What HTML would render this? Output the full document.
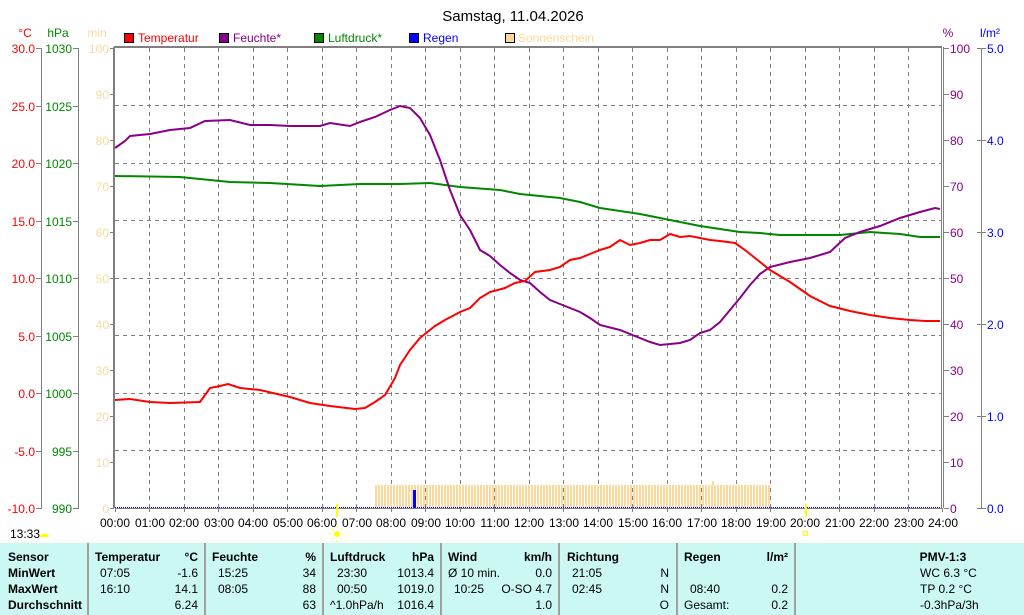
<!DOCTYPE html>
<html><head><meta charset="utf-8"><style>
html,body{margin:0;padding:0;background:#fff;}
svg{display:block;font-family:"Liberation Sans",sans-serif;font-size:12px;}
.b{font-weight:bold;}
</style></head><body>
<svg width="1024" height="615" xmlns="http://www.w3.org/2000/svg">
<rect width="1024" height="615" fill="#fff"/>
<text x="513" y="21" font-size="15" text-anchor="middle">Samstag, 11.04.2026</text>
<!-- axis units -->
<text x="25" y="37" fill="#f00" text-anchor="middle">°C</text>
<text x="58" y="37" fill="#080" text-anchor="middle">hPa</text>
<text x="97" y="37" fill="#f8dca0" text-anchor="middle">min</text>
<text x="948" y="37" fill="#808" text-anchor="middle">%</text>
<text x="990" y="37" fill="#00f" text-anchor="middle">l/m²</text>
<!-- legend -->
<g stroke="#000" stroke-width="1">
<rect x="124.5" y="33.5" width="9" height="9" fill="#f00"/>
<rect x="219.5" y="33.5" width="9" height="9" fill="#808"/>
<rect x="314.5" y="33.5" width="9" height="9" fill="#080"/>
<rect x="409.5" y="33.5" width="9" height="9" fill="#00f"/>
<rect x="505.5" y="33.5" width="9" height="9" fill="#fcd99a"/>
</g>
<text x="138" y="42" fill="#f00">Temperatur</text>
<text x="233" y="42" fill="#808">Feuchte*</text>
<text x="328" y="42" fill="#080">Luftdruck*</text>
<text x="423" y="42" fill="#00f">Regen</text>
<text x="518" y="42" fill="#fcd99a">Sonnenschein</text>
<!-- grid -->
<g stroke="#808080" stroke-dasharray="4,4" stroke-width="1">
<line x1="115" y1="105.5" x2="941" y2="105.5"/><line x1="115" y1="163.5" x2="941" y2="163.5"/>
<line x1="115" y1="220.5" x2="941" y2="220.5"/><line x1="115" y1="278.5" x2="941" y2="278.5"/>
<line x1="115" y1="335.5" x2="941" y2="335.5"/><line x1="115" y1="393.5" x2="941" y2="393.5"/>
<line x1="115" y1="450.5" x2="941" y2="450.5"/>
<line x1="149.5" y1="48" x2="149.5" y2="508"/><line x1="184.5" y1="48" x2="184.5" y2="508"/>
<line x1="218.5" y1="48" x2="218.5" y2="508"/><line x1="253.5" y1="48" x2="253.5" y2="508"/>
<line x1="287.5" y1="48" x2="287.5" y2="508"/><line x1="322.5" y1="48" x2="322.5" y2="508"/>
<line x1="356.5" y1="48" x2="356.5" y2="508"/><line x1="391.5" y1="48" x2="391.5" y2="508"/>
<line x1="425.5" y1="48" x2="425.5" y2="508"/><line x1="460.5" y1="48" x2="460.5" y2="508"/>
<line x1="494.5" y1="48" x2="494.5" y2="508"/><line x1="529.5" y1="48" x2="529.5" y2="508"/>
<line x1="563.5" y1="48" x2="563.5" y2="508"/><line x1="598.5" y1="48" x2="598.5" y2="508"/>
<line x1="632.5" y1="48" x2="632.5" y2="508"/><line x1="667.5" y1="48" x2="667.5" y2="508"/>
<line x1="701.5" y1="48" x2="701.5" y2="508"/><line x1="736.5" y1="48" x2="736.5" y2="508"/>
<line x1="770.5" y1="48" x2="770.5" y2="508"/><line x1="805.5" y1="48" x2="805.5" y2="508"/>
<line x1="839.5" y1="48" x2="839.5" y2="508"/><line x1="874.5" y1="48" x2="874.5" y2="508"/>
<line x1="908.5" y1="48" x2="908.5" y2="508"/>
</g>
<!-- sunshine -->
<defs><pattern id="sun" x="0" y="0" width="3" height="10" patternUnits="userSpaceOnUse"><rect width="2" height="10" fill="#fcd99a"/></pattern></defs>
<rect x="375" y="485" width="395" height="22" fill="url(#sun)"/>
<rect x="712" y="481" width="2" height="4" fill="#fcd99a"/>
<rect x="413" y="490" width="3" height="18" fill="#00f"/>
<line x1="115" y1="507.5" x2="941" y2="507.5" stroke="#00f" stroke-dasharray="1,1"/>
<!-- frame -->
<g stroke="#808080" fill="none">
<line x1="114" y1="47" x2="942" y2="47" stroke-width="2"/>
<line x1="114" y1="47" x2="114" y2="508" stroke-width="2"/>
<line x1="115" y1="508.5" x2="942" y2="508.5" stroke-width="1"/>
<line x1="941.5" y1="47" x2="941.5" y2="508"/><line x1="943.5" y1="47" x2="943.5" y2="508"/>
<line x1="41.5" y1="48" x2="41.5" y2="508"/><line x1="78.5" y1="48" x2="78.5" y2="508"/>
<line x1="981.5" y1="48" x2="981.5" y2="508"/>
<path d="M36 48.5h6M36 106.5h6M36 163.5h6M36 221.5h6M36 278.5h6M36 336.5h6M36 393.5h6M36 451.5h6M36 508.5h6"/>
<path d="M73 48.5h6M73 106.5h6M73 163.5h6M73 221.5h6M73 278.5h6M73 336.5h6M73 393.5h6M73 451.5h6M73 508.5h6"/>
<path d="M110 48.5h4M110 94.5h4M110 140.5h4M110 186.5h4M110 232.5h4M110 278.5h4M110 324.5h4M110 370.5h4M110 416.5h4M110 462.5h4M110 508.5h4"/>
<path d="M944 48.5h5M944 94.5h5M944 140.5h5M944 186.5h5M944 232.5h5M944 278.5h5M944 324.5h5M944 370.5h5M944 416.5h5M944 462.5h5M944 508.5h5"/>
<path d="M977 48.5h9M977 140.5h9M977 232.5h9M977 324.5h9M977 416.5h9M977 508.5h9"/>
<path d="M115.5 508v4M149.5 508v4M184.5 508v4M218.5 508v4M253.5 508v4M287.5 508v4M322.5 508v4M356.5 508v4M391.5 508v4M425.5 508v4M460.5 508v4M494.5 508v4M529.5 508v4M563.5 508v4M598.5 508v4M632.5 508v4M667.5 508v4M701.5 508v4M736.5 508v4M770.5 508v4M805.5 508v4M839.5 508v4M874.5 508v4M908.5 508v4M942.5 508v4"/>
</g>
<!-- left labels -->
<g fill="#f00" text-anchor="end">
<text x="35" y="53">30.0</text><text x="35" y="111">25.0</text><text x="35" y="168">20.0</text><text x="35" y="226">15.0</text>
<text x="35" y="283">10.0</text><text x="35" y="341">5.0</text><text x="35" y="398">0.0</text><text x="35" y="456">-5.0</text><text x="35" y="513">-10.0</text>
</g>
<g fill="#080" text-anchor="end">
<text x="72" y="53">1030</text><text x="72" y="111">1025</text><text x="72" y="168">1020</text><text x="72" y="226">1015</text>
<text x="72" y="283">1010</text><text x="72" y="341">1005</text><text x="72" y="398">1000</text><text x="72" y="456">995</text><text x="72" y="513">990</text>
</g>
<g fill="#f8dca0" text-anchor="end">
<text x="109" y="53">100</text><text x="109" y="99">90</text><text x="109" y="145">80</text><text x="109" y="191">70</text>
<text x="109" y="237">60</text><text x="109" y="283">50</text><text x="109" y="329">40</text><text x="109" y="375">30</text>
<text x="109" y="421">20</text><text x="109" y="467">10</text><text x="109" y="513">0</text>
</g>
<g fill="#808">
<text x="950" y="53">100</text><text x="950" y="99">90</text><text x="950" y="145">80</text><text x="950" y="191">70</text>
<text x="950" y="237">60</text><text x="950" y="283">50</text><text x="950" y="329">40</text><text x="950" y="375">30</text>
<text x="950" y="421">20</text><text x="950" y="467">10</text><text x="950" y="513">0</text>
</g>
<g fill="#00f">
<text x="987" y="53">5.0</text><text x="987" y="145">4.0</text><text x="987" y="237">3.0</text>
<text x="987" y="329">2.0</text><text x="987" y="421">1.0</text><text x="987" y="513">0.0</text>
</g>
<!-- hour labels -->
<g text-anchor="middle">
<text x="115" y="527">00:00</text><text x="150" y="527">01:00</text><text x="184" y="527">02:00</text><text x="219" y="527">03:00</text>
<text x="253" y="527">04:00</text><text x="288" y="527">05:00</text><text x="322" y="527">06:00</text><text x="357" y="527">07:00</text>
<text x="391" y="527">08:00</text><text x="426" y="527">09:00</text><text x="460" y="527">10:00</text><text x="495" y="527">11:00</text>
<text x="529" y="527">12:00</text><text x="564" y="527">13:00</text><text x="598" y="527">14:00</text><text x="633" y="527">15:00</text>
<text x="667" y="527">16:00</text><text x="702" y="527">17:00</text><text x="736" y="527">18:00</text><text x="771" y="527">19:00</text>
<text x="805" y="527">20:00</text><text x="840" y="527">21:00</text><text x="874" y="527">22:00</text><text x="909" y="527">23:00</text>
<text x="943" y="527">24:00</text>
</g>
<!-- sunrise/sunset -->
<rect x="336" y="504" width="2" height="13" fill="#ff0"/>
<rect x="805" y="504" width="2" height="13" fill="#ff0"/>
<circle cx="337" cy="534" r="3" fill="#ff0"/>
<g stroke="#ff0" stroke-width="1"><path d="M337 528v-2M337 540v2M331 534h-2M343 534h2M333 530l-1-1M341 530l1-1M333 538l-1 1M341 538l1 1"/></g>
<rect x="803.5" y="531.5" width="4" height="4" fill="none" stroke="#ff0"/>
<text x="10" y="538">13:33</text>
<path d="M40 537a4 3 0 0 1 9 0z" fill="#ff0"/>
<!-- series -->
<polyline fill="none" stroke="#080" stroke-width="2" points="115,176 180,177 210,180 230,182 270,183 320,186 360,184 400,184 430,183 460,187 500,190 520,194 560,198 580,202 600,208 640,214 660,218 700,226 740,232 760,233 780,235 840,235 870,232 900,234 920,237 940,237"/>
<polyline fill="none" stroke="#808" stroke-width="2" points="115,148 125,141 130,136 150,134 170,130 190,128 205,121 230,120 250,125 270,125 290,126 320,126 330,123 350,126 360,122 375,117 390,110 400,106 410,108 420,118 430,135 440,160 450,190 460,215 470,230 480,250 490,256 500,265 510,273 520,280 530,283 540,292 550,300 560,304 570,308 580,312 590,318 600,325 620,330 640,338 650,342 660,345 680,343 690,340 700,333 710,330 720,322 730,310 740,298 750,285 760,274 770,267 790,262 810,258 830,252 845,238 860,232 880,226 900,218 920,212 935,208 940,209"/>
<polyline fill="none" stroke="#f00" stroke-width="2" points="115,400 130,399 150,402 170,403 200,402 205,395 210,388 220,386 228,384 240,388 260,390 290,397 310,403 330,406 355,409 365,408 375,402 385,395 395,378 400,365 410,350 420,338 435,326 445,320 460,312 470,308 480,298 490,292 505,288 515,283 525,281 535,272 550,270 560,267 570,260 580,258 590,254 600,250 610,247 620,240 630,245 640,243 650,240 660,240 670,234 680,237 690,236 700,238 710,240 720,241 735,243 745,250 755,258 770,270 790,282 810,296 830,306 850,311 870,315 890,318 910,320 925,321 940,321"/>
<!-- table -->
<rect x="0" y="543" width="1024" height="72" fill="#ccf8f4"/>
<g stroke="#a0a0a0" stroke-width="2">
<line x1="88" y1="543" x2="88" y2="615"/><line x1="205" y1="543" x2="205" y2="615"/><line x1="323" y1="543" x2="323" y2="615"/>
<line x1="441" y1="543" x2="441" y2="615"/><line x1="559" y1="543" x2="559" y2="615"/><line x1="677" y1="543" x2="677" y2="615"/>
<line x1="795" y1="543" x2="795" y2="615"/>
</g>
<g class="b">
<text x="8" y="561">Sensor</text><text x="8" y="577">MinWert</text><text x="8" y="593">MaxWert</text><text x="8" y="609">Durchschnitt</text>
<text x="95" y="561">Temperatur</text><text x="198" y="561" text-anchor="end">°C</text>
<text x="212" y="561">Feuchte</text><text x="316" y="561" text-anchor="end">%</text>
<text x="330" y="561">Luftdruck</text><text x="434" y="561" text-anchor="end">hPa</text>
<text x="448" y="561">Wind</text><text x="552" y="561" text-anchor="end">km/h</text>
<text x="567" y="561">Richtung</text>
<text x="684" y="561">Regen</text><text x="788" y="561" text-anchor="end">l/m²</text>
<text x="943" y="561" text-anchor="middle">PMV-1:3</text>
</g>
<text x="100" y="577">07:05</text><text x="198" y="577" text-anchor="end">-1.6</text>
<text x="100" y="593">16:10</text><text x="198" y="593" text-anchor="end">14.1</text>
<text x="198" y="609" text-anchor="end">6.24</text>
<text x="218" y="577">15:25</text><text x="316" y="577" text-anchor="end">34</text>
<text x="218" y="593">08:05</text><text x="316" y="593" text-anchor="end">88</text>
<text x="316" y="609" text-anchor="end">63</text>
<text x="337" y="577">23:30</text><text x="434" y="577" text-anchor="end">1013.4</text>
<text x="337" y="593">00:50</text><text x="434" y="593" text-anchor="end">1019.0</text>
<text x="330" y="609">^1.0hPa/h</text><text x="434" y="609" text-anchor="end">1016.4</text>
<text x="448" y="577">Ø 10 min.</text><text x="552" y="577" text-anchor="end">0.0</text>
<text x="454" y="593">10:25</text><text x="552" y="593" text-anchor="end">O-SO 4.7</text>
<text x="552" y="609" text-anchor="end">1.0</text>
<text x="572" y="577">21:05</text><text x="669" y="577" text-anchor="end">N</text>
<text x="572" y="593">02:45</text><text x="669" y="593" text-anchor="end">N</text>
<text x="669" y="609" text-anchor="end">O</text>
<text x="690" y="593">08:40</text><text x="788" y="593" text-anchor="end">0.2</text>
<text x="684" y="609">Gesamt:</text><text x="788" y="609" text-anchor="end">0.2</text>
<text x="920" y="577">WC 6.3 °C</text>
<text x="920" y="593">TP 0.2 °C</text>
<text x="920" y="609">-0.3hPa/3h</text>
</svg>
</body></html>
